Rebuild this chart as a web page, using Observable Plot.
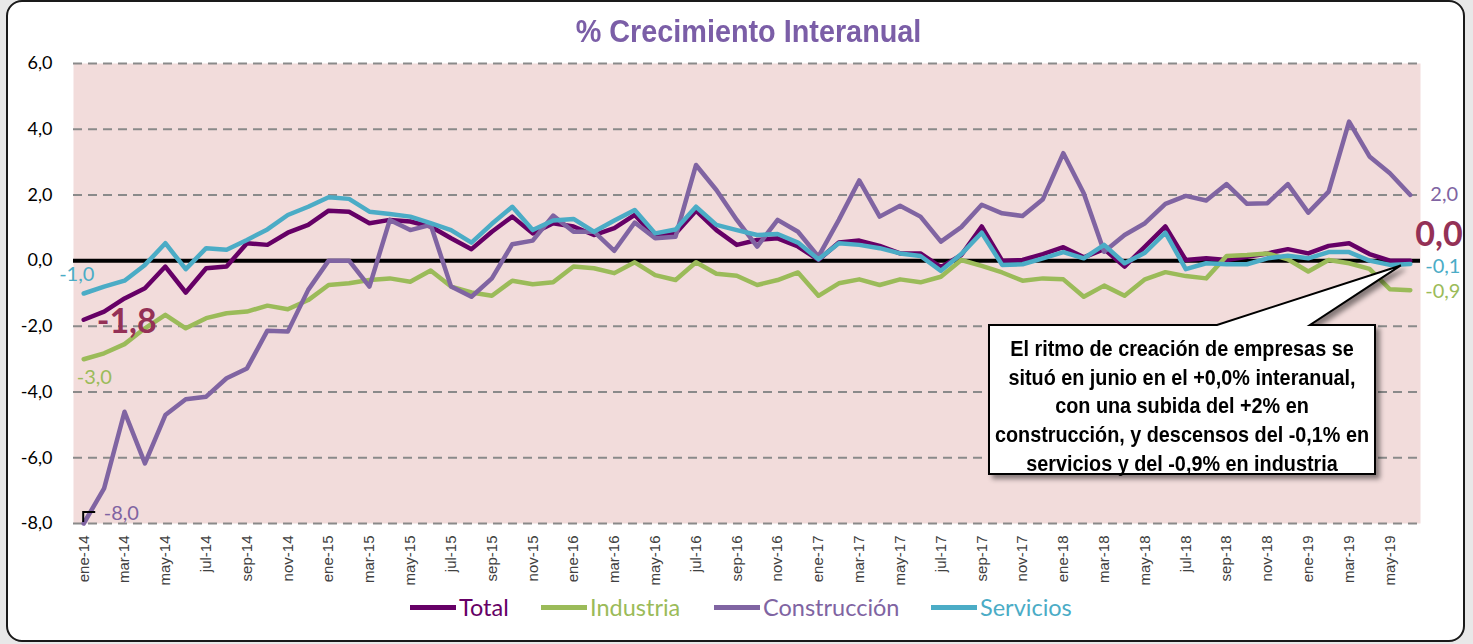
<!DOCTYPE html>
<html><head><meta charset="utf-8">
<script src="https://cdn.jsdelivr.net/npm/d3@7"></script>
<script src="https://cdn.jsdelivr.net/npm/@observablehq/plot@0.6"></script>
<style>
html,body{margin:0;padding:0;background:#e8e8e8;width:1473px;height:644px;overflow:hidden;position:relative;}
#frame{position:absolute;left:6px;top:0px;width:1455px;height:638px;border:2px solid #1a1a1a;border-radius:16px;background:#fff;}
#chart{position:absolute;left:0;top:0;}
#title{position:absolute;left:12px;width:1473px;top:13px;text-align:center;white-space:nowrap;font:bold 32px "Liberation Sans",Arial,sans-serif;color:#7B5EA7;transform:scaleX(0.9);transform-origin:50% 50%;}
.leg{position:absolute;top:593px;height:28px;display:flex;align-items:center;font:23.5px Lato,sans-serif;}
.leg span.sw{display:inline-block;width:46px;height:5px;margin-right:3px;}
#callout{position:absolute;left:0;top:0;pointer-events:none;}
#callText{position:absolute;left:952px;top:325px;width:460px;padding-top:10px;text-align:center;white-space:nowrap;font:bold 22px "Liberation Sans",Arial,sans-serif;line-height:28.7px;color:#000;transform:scaleX(0.9);transform-origin:50% 0;}
g[aria-label="x-axis tick label"] text{font-family:"Liberation Sans",Arial,sans-serif;}
g[aria-label="y-axis tick label"] text{font-family:Lato,sans-serif;}
</style>
</head><body>
<div id="frame"></div>
<div id="chart"></div>
<div id="title">% Crecimiento Interanual</div>
<div id="legend"></div>
<script>
const months = ["ene-14","feb-14","mar-14","abr-14","may-14","jun-14","jul-14","ago-14","sep-14","oct-14","nov-14","dic-14",
"ene-15","feb-15","mar-15","abr-15","may-15","jun-15","jul-15","ago-15","sep-15","oct-15","nov-15","dic-15",
"ene-16","feb-16","mar-16","abr-16","may-16","jun-16","jul-16","ago-16","sep-16","oct-16","nov-16","dic-16",
"ene-17","feb-17","mar-17","abr-17","may-17","jun-17","jul-17","ago-17","sep-17","oct-17","nov-17","dic-17",
"ene-18","feb-18","mar-18","abr-18","may-18","jun-18","jul-18","ago-18","sep-18","oct-18","nov-18","dic-18",
"ene-19","feb-19","mar-19","abr-19","may-19","jun-19"];

const total = [-1.8,-1.55,-1.15,-0.84,-0.18,-0.97,-0.23,-0.18,0.53,0.48,0.85,1.09,
1.52,1.49,1.14,1.24,1.19,1.04,0.68,0.35,0.88,1.34,0.83,1.14,
1.04,0.78,0.99,1.39,0.73,0.83,1.52,0.93,0.48,0.63,0.68,0.43,
0.02,0.55,0.61,0.45,0.22,0.22,-0.2,0.17,1.04,0.0,0.02,0.2,
0.41,0.1,0.35,-0.18,0.43,1.04,0.02,0.07,0.02,0.12,0.22,0.35,
0.22,0.45,0.53,0.2,0.0,0.0];

const industria = [-3.0,-2.82,-2.54,-2.06,-1.65,-2.06,-1.75,-1.6,-1.55,-1.37,-1.48,-1.2,
-0.74,-0.69,-0.59,-0.54,-0.64,-0.3,-0.79,-0.97,-1.07,-0.61,-0.72,-0.66,
-0.18,-0.23,-0.38,-0.05,-0.44,-0.59,-0.05,-0.4,-0.46,-0.74,-0.59,-0.36,
-1.07,-0.69,-0.57,-0.74,-0.57,-0.66,-0.49,0.02,-0.16,-0.36,-0.61,-0.54,
-0.57,-1.1,-0.76,-1.07,-0.57,-0.35,-0.47,-0.54,0.14,0.17,0.22,0.04,
-0.33,0.02,-0.08,-0.25,-0.87,-0.9];

const construccion = [-8.0,-6.93,-4.6,-6.17,-4.7,-4.22,-4.14,-3.58,-3.28,-2.13,-2.16,-0.89,
0.0,0.0,-0.79,1.24,0.93,1.09,-0.79,-1.1,-0.54,0.5,0.61,1.37,
0.88,0.88,0.3,1.16,0.68,0.73,2.91,2.15,1.24,0.43,1.24,0.88,
0.12,1.24,2.44,1.34,1.67,1.34,0.58,1.02,1.7,1.44,1.36,1.87,
3.27,2.05,0.27,0.78,1.14,1.73,1.97,1.83,2.33,1.73,1.75,2.33,
1.46,2.1,4.23,3.17,2.66,2.0];

const servicios = [-1.0,-0.79,-0.61,-0.13,0.53,-0.26,0.38,0.33,0.63,0.95,1.39,1.64,
1.93,1.88,1.49,1.42,1.34,1.14,0.93,0.55,1.12,1.64,0.93,1.22,
1.27,0.88,1.22,1.54,0.83,0.95,1.64,1.09,0.93,0.78,0.81,0.55,
0.04,0.53,0.48,0.38,0.22,0.14,-0.31,0.2,0.85,-0.13,-0.11,0.07,
0.26,0.07,0.48,-0.08,0.24,0.85,-0.26,-0.08,-0.11,-0.11,0.07,0.15,
0.07,0.26,0.26,0.0,-0.13,-0.1];

const seriesNames = ["Total","Industria","Construcción","Servicios"];
const seriesColors = ["#660066","#9BBB59","#8064A2","#4BACC6"];
const yTicks = [-8,-6,-4,-2,0,2,4,6];
const gridTicks = [-8,-6,-4,-2,2,4,6];
const xTickLabels = months.filter((d,i)=>i%2===0);
const callText = ["El ritmo de creación de empresas se","situó en junio en el +0,0% interanual,","con una subida del +2% en","construcción, y descensos del -0,1% en","servicios y del -0,9% en industria"];

const fmt = v => v.toFixed(1).replace(".", ",");
const allSeries = [total, industria, construccion, servicios];
const rows = [];
allSeries.forEach((vals,k)=>vals.forEach((v,i)=>rows.push({serie:seriesNames[k], mes:months[i], valor:v})));
const last = months.length-1;
const pt = (vals,i) => [{mes:months[i], valor:vals[i], t:fmt(vals[i])}];
const lab = (vals,i,opts) => Plot.text(pt(vals,i), {x:"mes", y:"valor", text:"t", fontFamily:"Lato", fontSize:20, ...opts});

const plot = Plot.plot({
  width:1473, height:644,
  marginLeft:73, marginRight:53, marginTop:63, marginBottom:121,
  style:{background:"transparent", overflow:"visible"},
  x:{type:"point", domain:months, padding:0.5, round:false},
  y:{domain:[-8,6]},
  color:{domain:seriesNames, range:seriesColors},
  marks:[
    Plot.frame({fill:"#F2DCDB", stroke:null}),
    Plot.ruleY(gridTicks, {stroke:"#8a8a8a", strokeWidth:2, strokeDasharray:"9,6"}),
    Plot.ruleY([0], {stroke:"#000", strokeWidth:4}),
    Plot.axisY({ticks:yTicks, tickSize:0, tickPadding:21, tickFormat:fmt, fontSize:18, fill:"#000", label:null}),
    Plot.axisX({ticks:xTickLabels, tickSize:0, tickRotate:-90, tickPadding:12, fontSize:15, fill:"#404040", label:null}),
    Plot.line(rows, {x:"mes", y:"valor", z:"serie", stroke:"serie", strokeWidth:4.5, strokeLinejoin:"round"}),
    // end labels
    lab(construccion, last, {dx:20, dy:0, textAnchor:"start", fill:"#8064A2"}),
    lab(total, last, {dx:5, dy:-26, textAnchor:"start", fill:"#943156", fontSize:34, fontWeight:"bold"}),
    lab(servicios, last, {dx:15, dy:3, textAnchor:"start", fill:"#4BACC6"}),
    lab(industria, last, {dx:15, dy:1, textAnchor:"start", fill:"#9BBB59"}),
    // start labels
    lab(servicios, 0, {dx:-7, dy:-19, textAnchor:"middle", fill:"#4BACC6"}),
    lab(total, 0, {dx:13, dy:2, textAnchor:"start", fill:"#943156", fontSize:34, fontWeight:"bold"}),
    lab(industria, 0, {dx:-7, dy:18, textAnchor:"start", fill:"#9BBB59"}),
    lab(construccion, 0, {dx:20, dy:-10, textAnchor:"start", fill:"#8064A2"})
  ]
});
document.getElementById("chart").appendChild(plot);

// legend
const legPos = [410, 541, 714, 931];
const leg = document.getElementById("legend");
seriesNames.forEach((n,k)=>{
  const d = document.createElement("div");
  d.className = "leg";
  d.style.left = legPos[k] + "px";
  d.style.color = seriesColors[k];
  d.innerHTML = `<span class="sw" style="background:${seriesColors[k]}"></span>${n}`;
  leg.appendChild(d);
});

// callout + small leader mark, anchored through the plot's scales
const xs = plot.scale("x"), ys = plot.scale("y");
const tipX = xs.apply(months[last]) - 9, tipY = ys.apply(servicios[last]) + 2;
const sx = xs.apply(months[0]), sy = ys.apply(construccion[0]);
const bx0 = 989, bx1 = 1375, by0 = 325, by1 = 474;
const ns = "http://www.w3.org/2000/svg";
const svg = document.createElementNS(ns, "svg");
svg.setAttribute("id","callout"); svg.setAttribute("width",1473); svg.setAttribute("height",644);
svg.innerHTML = `<defs><filter id="sh" x="-10%" y="-10%" width="130%" height="140%"><feDropShadow dx="4" dy="4" stdDeviation="2.5" flood-color="#000" flood-opacity="0.45"/></filter></defs>
<path d="M${sx},${sy-1} V${sy-11} H${sx+12}" fill="none" stroke="#000" stroke-width="2"/>
<path d="M${bx0},${by0} H1217 L${tipX},${tipY} L1310,${by0} H${bx1} V${by1} H${bx0} Z" fill="#fff" stroke="#000" stroke-width="2" stroke-linejoin="miter" filter="url(#sh)"/>`;
document.body.appendChild(svg);
const ct = document.createElement("div");
ct.id = "callText";
ct.innerHTML = callText.join("<br>");
document.body.appendChild(ct);
</script>
</body></html>
